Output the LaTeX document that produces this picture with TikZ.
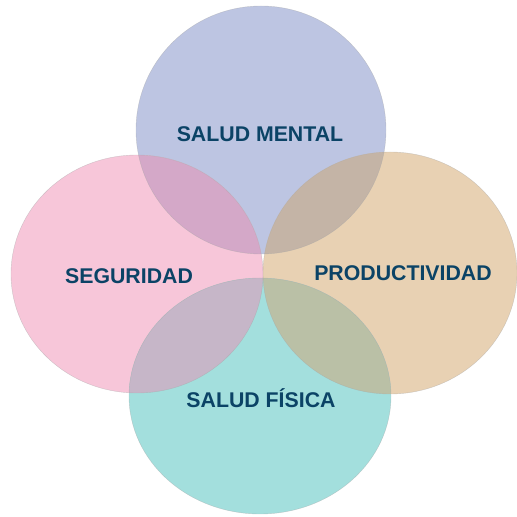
\documentclass[tikz,border=0pt]{standalone}
\usepackage{fontspec}
\setmainfont{Liberation Sans}
\definecolor{txtblue}{RGB}{11,67,102}
\definecolor{cmental}{RGB}{189,197,226}
\definecolor{cseg}{RGB}{247,198,217}
\definecolor{cprod}{RGB}{232,209,179}
\definecolor{cfis}{RGB}{163,223,221}
\definecolor{cmentalseg}{RGB}{212,168,200}
\definecolor{cmentalprod}{RGB}{196,180,166}
\definecolor{csegfis}{RGB}{198,182,200}
\definecolor{cprodfis}{RGB}{186,192,166}

\begin{document}
\begin{tikzpicture}[x=1pt,y=1pt,
	every node/.style={font=\fontsize{21.3}{25}\selectfont\bfseries, text=txtblue},
	mentalr/.style={x radius=125, y radius=124},
	segr/.style={x radius=126, y radius=119},
	prodr/.style={x radius=127, y radius=121},
	fisr/.style={x radius=131, y radius=118},
	rim/.style={draw=gray!70, draw opacity=0.5, line width=0.4pt}]
	\useasboundingbox (0,0) rectangle (517,517);
	\coordinate (mentalc) at (261,387);
	\coordinate (segc) at (137,243);
	\coordinate (prodc) at (390,244);
	\coordinate (fisc) at (260,121);
	\fill[cmental] (mentalc) ellipse [mentalr];
	\fill[cseg] (segc) ellipse [segr];
	\fill[cprod] (prodc) ellipse [prodr];
	\fill[cfis] (fisc) ellipse [fisr];
	\begin{scope}
		\clip (mentalc) ellipse [mentalr];
		\fill[cmentalseg] (segc) ellipse [segr];
		\fill[cmentalprod] (prodc) ellipse [prodr];
	\end{scope}
	\begin{scope}
		\clip (fisc) ellipse [fisr];
		\fill[csegfis] (segc) ellipse [segr];
		\fill[cprodfis] (prodc) ellipse [prodr];
	\end{scope}
	\draw[rim] (mentalc) ellipse [mentalr];
	\draw[rim] (segc) ellipse [segr];
	\draw[rim] (prodc) ellipse [prodr];
	\draw[rim] (fisc) ellipse [fisr];
	\node (mental) at (260,383) {SALUD MENTAL};
	\node (seg) at (129,241) {SEGURIDAD};
	\node (prod) at (403,244) {PRODUCTIVIDAD};
	\node (fis) at (261,119) {SALUD FÍSICA};
\end{tikzpicture}
\end{document}
